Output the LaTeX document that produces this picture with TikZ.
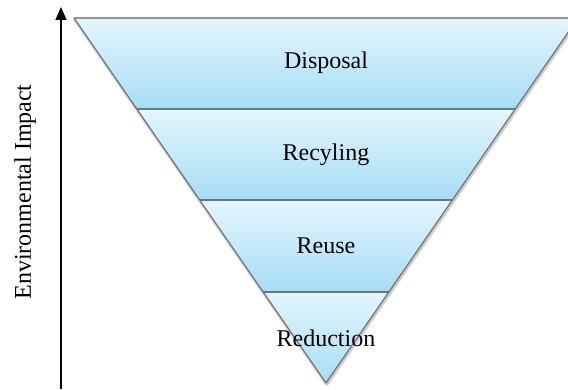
\documentclass[tikz,border=0pt]{standalone}
\usepackage{fontspec}
\setmainfont{Liberation Serif}
\usetikzlibrary{arrows.meta}
\definecolor{bandtop}{HTML}{E4F6FD}
\definecolor{bandbot}{HTML}{A6DDF5}
\definecolor{edgegray}{HTML}{6E6E6E}
\definecolor{divgray}{HTML}{5E7C88}
\tikzset{
  band/.style={top color=bandtop, bottom color=bandbot},
  lbl/.style={font=\fontsize{24}{28}\selectfont, text=black, inner sep=0pt},
  divline/.style={draw=divgray, line width=1.4pt},
  outer/.style={draw=edgegray, line width=1.1pt, line join=round},
  glowwide/.style={draw=black, opacity=0.08, line width=5pt, line join=round},
  glownarrow/.style={draw=black, opacity=0.15, line width=3pt, line join=round}
}
\begin{document}
\begin{tikzpicture}[x=1pt,y=1pt]
\useasboundingbox (0,0) rectangle (568,389);
\begin{scope}
\clip (0,0) rectangle (568,389);
% key points
\coordinate (TL) at (74,371);
\coordinate (TR) at (578,371);
\coordinate (A1) at (136.8,280);
\coordinate (B1) at (515.2,280);
\coordinate (A2) at (199.7,189);
\coordinate (B2) at (452.3,189);
\coordinate (A3) at (263.2,97);
\coordinate (B3) at (388.8,97);
\coordinate (AP) at (326,6);
% soft shadow round the outer edges
\draw[glowwide] ([shift={(0.8,-0.8)}]TL) -- ([shift={(0.8,-0.8)}]AP) -- ([shift={(0.8,-0.8)}]TR);
\draw[glownarrow] ([shift={(0.8,-0.8)}]TL) -- ([shift={(0.8,-0.8)}]AP) -- ([shift={(0.8,-0.8)}]TR);
% bands
\shade[band] (TL) -- (TR) -- (B1) -- (A1) -- cycle;
\shade[band] (A1) -- (B1) -- (B2) -- (A2) -- cycle;
\shade[band] (A2) -- (B2) -- (B3) -- (A3) -- cycle;
\shade[band] (A3) -- (B3) -- (AP) -- cycle;
% dividers
\draw[divline] (A1) -- (B1);
\draw[divline] (A2) -- (B2);
\draw[divline] (A3) -- (B3);
% outer edges
\draw[draw=gray!85, line width=1.6pt] (TL) -- (TR);
\draw[outer] (TL) -- (AP) -- (TR);
\end{scope}
% labels
\node[lbl] (disposal) at (326,326) {Disposal};
\node[lbl] (recyling) at (326,234) {Recyling};
\node[lbl] (reuse) at (326,143) {Reuse};
\node[lbl] (reduction) at (326,51) {Reduction};
% axis
\coordinate (ax0) at (61,0);
\coordinate (ax1) at (61,382);
\draw[line width=1.2pt, -{Triangle[width=11pt,length=13pt]}] (ax0) -- (ax1);
\node[lbl, rotate=90] (impact) at (25,197) {Environmental Impact};
\end{tikzpicture}
\end{document}
